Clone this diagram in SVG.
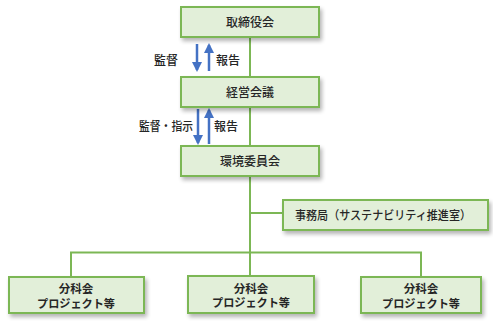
<svg xmlns="http://www.w3.org/2000/svg" width="493" height="325" viewBox="0 0 493 325">
<defs>
<filter id="sh" x="-10%" y="-20%" width="125%" height="160%">
<feGaussianBlur in="SourceAlpha" stdDeviation="2"/>
<feOffset dx="2" dy="3"/>
<feComponentTransfer><feFuncA type="linear" slope="0.3"/></feComponentTransfer>
<feMerge><feMergeNode/><feMergeNode in="SourceGraphic"/></feMerge>
</filter>
<marker id="ah" viewBox="0 0 10 10" refX="8" refY="5" markerWidth="4" markerHeight="4" orient="auto" markerUnits="strokeWidth">
<path d="M0,0 L10,5 L0,10 z" fill="#4472c4"/>
</marker>
</defs>
<style>
.box{fill:#e2efd9;stroke:#7cb755;stroke-width:2;filter:url(#sh)}
.ln{fill:none;stroke:#7cb755;stroke-width:2}
.ar{fill:none;stroke:#4472c4;stroke-width:2.5;marker-end:url(#ah)}
text{font-family:"Noto Sans CJK JP","Noto Sans CJK SC",sans-serif;fill:#262626;font-size:12px;font-weight:500}
.c{text-anchor:middle}
.b{font-weight:bold;font-size:11.5px}
</style>
<rect width="493" height="325" fill="#fff"/>
<g id="connectors">
<path class="ln" d="M250,37 V77 M250,107 V146 M250,176 V276 M250,213 H283 M71,277 V252.5 H421 V277"/>
<line class="ar" x1="197" y1="44" x2="197" y2="70"/>
<line class="ar" x1="209" y1="71" x2="209" y2="45"/>
<line class="ar" x1="198" y1="109" x2="198" y2="143"/>
<line class="ar" x1="209" y1="144" x2="209" y2="110"/>
<text x="166" y="65" class="c">監督</text>
<text x="228" y="65" class="c">報告</text>
<text x="166" y="131" class="c" textLength="54" lengthAdjust="spacingAndGlyphs">監督・指示</text>
<text x="226" y="131" class="c">報告</text>
</g>
<g id="n1"><rect class="box" x="181" y="7" width="138" height="30"/><text x="250" y="27" class="c">取締役会</text></g>
<g id="n2"><rect class="box" x="181" y="77" width="138" height="30"/><text x="250" y="97" class="c">経営会議</text></g>
<g id="n3"><rect class="box" x="181" y="146" width="138" height="30"/><text x="250" y="166" class="c">環境委員会</text></g>
<g id="n4"><rect class="box" x="283" y="200" width="205" height="30"/><text x="383" y="220" class="c" textLength="176" lengthAdjust="spacingAndGlyphs">事務局（サステナビリティ推進室）</text></g>
<g id="n5"><rect class="box" x="9" y="277" width="135" height="36"/><text x="76" y="293" class="c b">分科会</text><text x="76" y="307.5" class="c b" textLength="78" lengthAdjust="spacingAndGlyphs">プロジェクト等</text></g>
<g id="n6"><rect class="box" x="188" y="276" width="126" height="37"/><text x="251" y="292.5" class="c b">分科会</text><text x="251" y="307" class="c b" textLength="78" lengthAdjust="spacingAndGlyphs">プロジェクト等</text></g>
<g id="n7"><rect class="box" x="361" y="277" width="120" height="36"/><text x="421" y="293" class="c b">分科会</text><text x="421" y="307.5" class="c b" textLength="78" lengthAdjust="spacingAndGlyphs">プロジェクト等</text></g>
</svg>
